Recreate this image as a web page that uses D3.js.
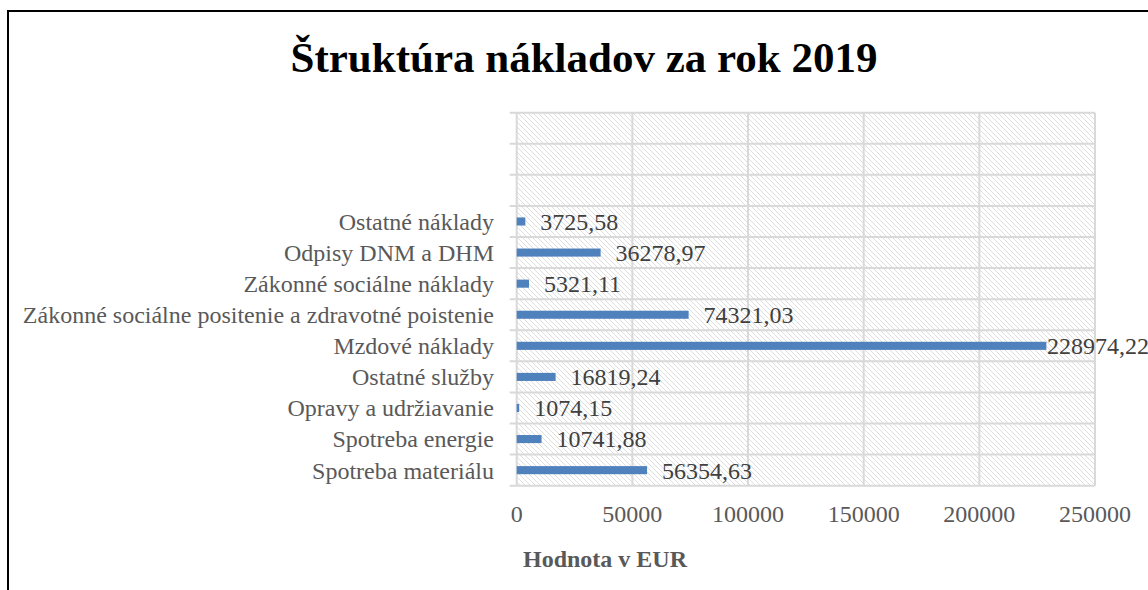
<!DOCTYPE html>
<html>
<head>
<meta charset="UTF-8">
<title>Štruktúra nákladov za rok 2019</title>
<script src="https://cdn.jsdelivr.net/npm/d3@7"></script>
<style>
    body { margin: 0; background: #fff; }
    text { font-family: "Liberation Serif", "Times New Roman", serif; }
    .grid line { stroke: #d9d9d9; stroke-width: 2px; }
    .cat-label { fill: #595959; font-size: 24px; }
    .tick-label { fill: #595959; font-size: 24px; }
    .val-label { fill: #404040; font-size: 24px; }
</style>
</head>
<body>
<svg width="1148" height="590"></svg>
<script>
// categories listed from bottom to top
var categories = [
    'Spotreba materiálu',
    'Spotreba energie',
    'Opravy a udržiavanie',
    'Ostatné služby',
    'Mzdové náklady',
    'Zákonné sociálne positenie a zdravotné poistenie',
    'Zákonné sociálne náklady',
    'Odpisy DNM a DHM',
    'Ostatné náklady'
];
var values = [56354.63, 10741.88, 1074.15, 16819.24, 228974.22, 74321.03, 5321.11, 36278.97, 3725.58];
var valueLabels = ['56354,63', '10741,88', '1074,15', '16819,24', '228974,22', '74321,03', '5321,11', '36278,97', '3725,58'];
var xTicks = [0, 50000, 100000, 150000, 200000, 250000];
var emptySlots = 3; // empty category rows at top of the plot

var svg = d3.select('svg'),
    W = +svg.attr('width'),
    plot = { left: 516.7, right: 1095, top: 112.7, bottom: 485.7 };

// chart frame
svg.append('rect')
    .attr('x', 8).attr('y', 11)
    .attr('width', 1300).attr('height', 700)
    .attr('fill', 'none').attr('stroke', '#000').attr('stroke-width', 2);

// hatch pattern for plot area
var defs = svg.append('defs');
var pat = defs.append('pattern')
    .attr('id', 'hatch')
    .attr('patternUnits', 'userSpaceOnUse')
    .attr('width', 5).attr('height', 5);
pat.append('path')
    .attr('d', 'M-1,-1 L6,6 M-1,4 L1,6 M4,-1 L6,1')
    .attr('stroke', '#dedede').attr('stroke-width', 1);

var slots = d3.range(categories.length + emptySlots);

var x = d3.scaleLinear().domain([0, 250000]).range([plot.left, plot.right]);
var y = d3.scaleBand().domain(slots).range([plot.bottom, plot.top]);

svg.append('rect')
    .attr('x', plot.left).attr('y', plot.top)
    .attr('width', plot.right - plot.left).attr('height', plot.bottom - plot.top)
    .attr('fill', 'url(#hatch)');

// title
svg.append('text')
    .attr('x', 584).attr('y', 72)
    .attr('text-anchor', 'middle')
    .style('font-size', '43px').style('font-weight', 'bold').attr('fill', '#000')
    .text('Štruktúra nákladov za rok 2019');

// gridlines
var grid = svg.append('g').attr('class', 'grid');
grid.selectAll('.v').data(xTicks).enter().append('line')
    .attr('x1', function(d) { return x(d); }).attr('x2', function(d) { return x(d); })
    .attr('y1', plot.top).attr('y2', plot.bottom);
var bounds = slots.map(function(s) { return y(s) + y.bandwidth(); }).concat([plot.top]);
grid.selectAll('.h').data(bounds).enter().append('line')
    .attr('x1', plot.left - 7).attr('x2', plot.right)
    .attr('y1', function(d) { return d; }).attr('y2', function(d) { return d; });

// bars
var barH = y.bandwidth() * 0.26;
svg.selectAll('.bar').data(values).enter().append('rect')
    .attr('class', 'bar')
    .attr('x', x(0))
    .attr('y', function(d, i) { return y(i) + (y.bandwidth() - barH) / 2; })
    .attr('width', function(d) { return x(d) - x(0); })
    .attr('height', barH)
    .attr('fill', '#4f81bd');

// value labels
svg.selectAll('.val-label').data(values).enter().append('text')
    .attr('class', 'val-label')
    .attr('y', function(d, i) { return y(i) + y.bandwidth() / 2; })
    .attr('dy', '0.35em')
    .text(function(d, i) { return valueLabels[i]; })
    .attr('x', function(d) {
        var w = this.getComputedTextLength();
        return Math.min(x(d) + 15, W + 1 - w);
    });

// category labels
svg.selectAll('.cat-label').data(categories).enter().append('text')
    .attr('class', 'cat-label')
    .attr('x', 494)
    .attr('y', function(d, i) { return y(i) + y.bandwidth() / 2; })
    .attr('dy', '0.35em')
    .attr('text-anchor', 'end')
    .text(function(d) { return d; });

// x tick labels
svg.selectAll('.tick-label').data(xTicks).enter().append('text')
    .attr('class', 'tick-label')
    .attr('x', function(d) { return x(d); })
    .attr('y', 522)
    .attr('text-anchor', 'middle')
    .text(function(d) { return d; });

// axis title
svg.append('text')
    .attr('x', 605).attr('y', 567)
    .attr('text-anchor', 'middle')
    .style('font-size', '24px').style('font-weight', 'bold').attr('fill', '#595959')
    .text('Hodnota v EUR');
</script>
</body>
</html>
